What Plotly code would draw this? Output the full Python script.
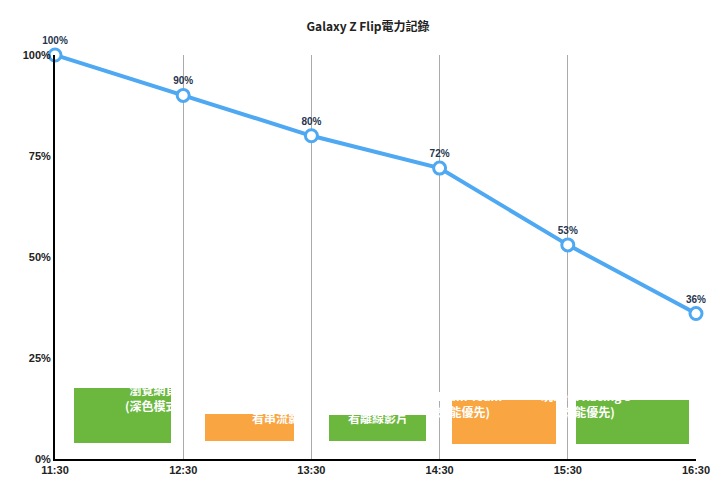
import plotly.graph_objects as go

times = ['11:30', '12:30', '13:30', '14:30', '15:30', '16:30']
battery = [100, 90, 80, 72, 53, 36]
y_ticks = [0, 25, 50, 75, 100]

# activity boxes: label, colour, pixel box (x0, x1, y0, y1)
activities = [
    ('瀏覽網頁<br>(深色模式)', '#6cb83f', (66, 163, 380, 435)),
    ('看串流影片', '#f9a541', (197, 286, 406, 433)),
    ('看離線影片', '#6cb83f', (321, 418, 407, 433)),
    ('玩 Tsum Tsum<br>(效能優先)', '#f9a541', (444, 548, 392, 436)),
    ('玩Real Racing 3<br>(效能優先)', '#6cb83f', (568, 681, 392, 436)),
]

L, R, T, B = 47, 688, 47, 451
W, H = R - L, B - T

fig = go.Figure()
fig.add_trace(go.Scatter(
    x=list(range(len(times))), y=battery,
    mode='lines+markers+text',
    line=dict(color='#4ea8f2', width=4),
    marker=dict(size=12, color='white', line=dict(color='#4ea8f2', width=3)),
    text=[f'<b>{v}%</b>' for v in battery], textposition='top center',
    textfont=dict(size=10, color='#1f3550', family='Liberation Sans'),
    cliponaxis=False, hoverinfo='skip',
))

for label, color, (x0, x1, y0, y1) in activities:
    fig.add_shape(type='rect', xref='paper', yref='paper',
                  x0=(x0 - L) / W, x1=(x1 - L) / W,
                  y0=(B - y1) / H, y1=(B - y0) / H,
                  fillcolor=color, line=dict(width=0), layer='below')
    fig.add_annotation(xref='paper', yref='paper',
                       x=((x0 + x1) / 2 - L) / W, y=(B - (y0 + y1) / 2) / H,
                       text=f'<b>{label}</b>', showarrow=False,
                       font=dict(size=12, color='white', family='Noto Sans CJK TC'))

fig.update_layout(
    width=720, height=477,
    margin=dict(l=L, r=720 - R, t=T, b=477 - B, autoexpand=False),
    plot_bgcolor='white', paper_bgcolor='white',
    showlegend=False,
    title=dict(text='<b>Galaxy Z Flip電力記錄</b>', x=0.5, y=0.97, xanchor='center',
               font=dict(size=12, color='#222', family='Noto Sans CJK TC')),
    font=dict(family='Liberation Sans', size=11, color='#222'),
)
fig.update_xaxes(range=[0, 5], tickvals=list(range(len(times))), ticktext=[f'<b>{t}</b>' for t in times],
                 showgrid=True, gridcolor='#aaaaaa', gridwidth=1, automargin=False,
                 showline=True, linecolor='black', linewidth=2, zeroline=False, ticks='')
fig.update_yaxes(range=[0, 100], tickvals=y_ticks, ticktext=[f'<b>{v}%</b>' for v in y_ticks],
                 showgrid=False, showline=True, linecolor='black', linewidth=2, zeroline=False,
                 automargin=False)

fig.write_html('out.html')
